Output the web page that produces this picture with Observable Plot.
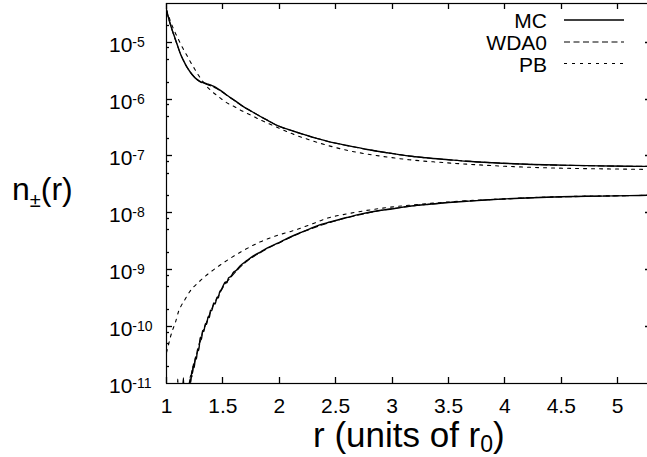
<!DOCTYPE html>
<html>
<head>
<meta charset="utf-8">
<script src="https://cdn.jsdelivr.net/npm/d3@7"></script>
<script src="https://cdn.jsdelivr.net/npm/@observablehq/plot@0.6"></script>
<style>
  html, body { margin: 0; padding: 0; background: #fff; overflow: hidden; }
  svg { display: block; }
</style>
</head>
<body>
<div id="chart"></div>
<script>
// ---- data ----
const mcUpperR = [1.00, 1.03, 1.065, 1.10, 1.124, 1.15, 1.183, 1.21, 1.242, 1.27, 1.30, 1.33, 1.36, 1.39, 1.42, 1.46, 1.50, 1.54, 1.60, 1.685, 1.76, 1.833, 1.90, 1.98, 2.05, 2.128, 2.20, 2.275, 2.35, 2.42, 2.50, 2.60, 2.70, 2.78, 2.87, 2.955, 3.05, 3.15, 3.30, 3.50, 3.66, 3.90, 4.25, 4.50, 4.84, 5.10, 5.30];
const mcUpperN = [3.7e-5, 2.2e-5, 1.35e-5, 8.5e-6, 6.2e-6, 4.8e-6, 3.6e-6, 3.0e-6, 2.5e-6, 2.22e-6, 2.04e-6, 1.94e-6, 1.86e-6, 1.78e-6, 1.67e-6, 1.5e-6, 1.33e-6, 1.16e-6, 9.6e-7, 7.3e-7, 6.0e-7, 4.95e-7, 4.2e-7, 3.45e-7, 3.05e-7, 2.72e-7, 2.45e-7, 2.2e-7, 2.0e-7, 1.83e-7, 1.68e-7, 1.53e-7, 1.40e-7, 1.3e-7, 1.21e-7, 1.14e-7, 1.07e-7, 1.0e-7, 9.3e-8, 8.6e-8, 8.1e-8, 7.6e-8, 7.1e-8, 6.9e-8, 6.7e-8, 6.6e-8, 6.55e-8];

const wdaUpperR = [1.00, 1.03, 1.065, 1.10, 1.124, 1.15, 1.183, 1.21, 1.242, 1.27, 1.30, 1.33, 1.36, 1.39, 1.42, 1.46, 1.50, 1.54, 1.60, 1.685, 1.76, 1.833, 1.90, 1.98, 2.128, 2.275, 2.42, 2.60, 2.78, 2.955, 3.15, 3.50, 3.90, 4.25, 4.84, 5.30];
const wdaUpperN = [3.6e-5, 2.2e-5, 1.33e-5, 8.4e-6, 6.2e-6, 4.8e-6, 3.6e-6, 3.0e-6, 2.5e-6, 2.2e-6, 2.0e-6, 1.9e-6, 1.8e-6, 1.72e-6, 1.62e-6, 1.47e-6, 1.31e-6, 1.15e-6, 9.5e-7, 7.3e-7, 6.0e-7, 4.95e-7, 4.2e-7, 3.45e-7, 2.72e-7, 2.2e-7, 1.83e-7, 1.53e-7, 1.3e-7, 1.14e-7, 1.0e-7, 8.6e-8, 7.6e-8, 7.1e-8, 6.7e-8, 6.55e-8];

const pbUpperR = [1.00, 1.03, 1.06, 1.09, 1.12, 1.15, 1.18, 1.21, 1.24, 1.27, 1.30, 1.33, 1.36, 1.40, 1.45, 1.50, 1.55, 1.60, 1.65, 1.70, 1.75, 1.833, 1.90, 1.98, 2.128, 2.275, 2.42, 2.60, 2.78, 2.955, 3.15, 3.40, 3.66, 4.00, 4.25, 4.60, 5.00, 5.30];
const pbUpperN = [3.7e-5, 2.5e-5, 1.75e-5, 1.3e-5, 9.8e-6, 7.5e-6, 5.9e-6, 4.6e-6, 3.65e-6, 2.9e-6, 2.35e-6, 1.95e-6, 1.65e-6, 1.38e-6, 1.15e-6, 9.6e-7, 8.3e-7, 7.4e-7, 6.5e-7, 5.8e-7, 5.2e-7, 4.3e-7, 3.75e-7, 3.2e-7, 2.4e-7, 1.9e-7, 1.55e-7, 1.26e-7, 1.08e-7, 9.6e-8, 8.6e-8, 7.8e-8, 7.2e-8, 6.6e-8, 6.3e-8, 6.05e-8, 5.9e-8, 5.8e-8];

const mcLowerR = [1.14, 1.15, 1.155, 1.19, 1.20, 1.21, 1.215, 1.225, 1.23, 1.24, 1.245, 1.257, 1.265, 1.275, 1.285, 1.30, 1.31, 1.32, 1.33, 1.345, 1.355, 1.37, 1.38, 1.39, 1.40, 1.42, 1.43, 1.449, 1.46, 1.47, 1.49, 1.50, 1.523, 1.535, 1.55, 1.57, 1.596, 1.62, 1.65, 1.715, 1.77, 1.833, 1.90, 1.98, 2.05, 2.128, 2.20, 2.275, 2.364, 2.45, 2.60, 2.72, 2.85, 3.01, 3.15, 3.30, 3.50, 3.66, 3.90, 4.25, 4.50, 4.84, 5.10, 5.30];
const mcLowerN = [6e-12, 1.25e-11, 6e-12, 6e-12, 9e-12, 1.2e-11, 1.05e-11, 1.7e-11, 1.5e-11, 2.2e-11, 1.9e-11, 2.9e-11, 2.7e-11, 4.0e-11, 3.8e-11, 6.5e-11, 6.0e-11, 8.5e-11, 8.2e-11, 1.13e-10, 1.1e-10, 1.5e-10, 1.45e-10, 1.94e-10, 1.9e-10, 2.6e-10, 2.5e-10, 3.3e-10, 3.2e-10, 4.0e-10, 4.6e-10, 5.1e-10, 6.1e-10, 5.9e-10, 7.2e-10, 7.6e-10, 9.1e-10, 9.8e-10, 1.15e-9, 1.46e-9, 1.75e-9, 2.05e-9, 2.45e-9, 2.9e-9, 3.4e-9, 4.0e-9, 4.6e-9, 5.3e-9, 6.2e-9, 6.9e-9, 8.3e-9, 9.5e-9, 1.07e-8, 1.18e-8, 1.31e-8, 1.4e-8, 1.52e-8, 1.6e-8, 1.72e-8, 1.85e-8, 1.92e-8, 1.97e-8, 2.01e-8, 2.04e-8];

const wdaLowerR = [1.095, 1.10, 1.105, 1.19, 1.205, 1.215, 1.225, 1.235, 1.25, 1.26, 1.275, 1.29, 1.30, 1.32, 1.345, 1.37, 1.39, 1.42, 1.45, 1.49, 1.523, 1.56, 1.60, 1.65, 1.715, 1.78, 1.833, 1.90, 1.98, 2.128, 2.275, 2.45, 2.60, 2.85, 3.15, 3.50, 3.90, 4.25, 4.84, 5.30];
const wdaLowerN = [5e-12, 1.2e-11, 5e-12, 5e-12, 1.1e-11, 1.4e-11, 1.3e-11, 2.0e-11, 2.4e-11, 3.0e-11, 3.6e-11, 5.0e-11, 5.5e-11, 8.0e-11, 1.05e-10, 1.45e-10, 1.8e-10, 2.5e-10, 3.2e-10, 4.5e-10, 5.8e-10, 7.0e-10, 8.6e-10, 1.1e-9, 1.42e-9, 1.75e-9, 2.0e-9, 2.4e-9, 2.85e-9, 3.95e-9, 5.2e-9, 6.8e-9, 8.2e-9, 1.06e-8, 1.3e-8, 1.52e-8, 1.72e-8, 1.85e-8, 1.97e-8, 2.04e-8];

const pbLowerR = [1.00, 1.02, 1.035, 1.065, 1.08, 1.109, 1.124, 1.168, 1.183, 1.228, 1.272, 1.316, 1.39, 1.537, 1.685, 1.833, 1.98, 2.128, 2.335, 2.42, 2.60, 2.72, 2.90, 3.15, 3.40, 3.66, 4.00, 4.25, 4.60, 5.00, 5.30];
const pbLowerN = [3.5e-11, 5e-11, 6.6e-11, 1.0e-10, 1.2e-10, 1.9e-10, 2.2e-10, 3.1e-10, 3.5e-10, 4.7e-10, 5.7e-10, 6.9e-10, 9.1e-10, 1.46e-9, 2.2e-9, 3.1e-9, 4.0e-9, 4.9e-9, 6.9e-9, 8.0e-9, 9.6e-9, 1.06e-8, 1.2e-8, 1.36e-8, 1.5e-8, 1.63e-8, 1.76e-8, 1.86e-8, 1.95e-8, 2.0e-8, 2.04e-8];

const xTicks = [1, 1.5, 2, 2.5, 3, 3.5, 4, 4.5, 5];
const xTickLabels = ["1", "1.5", "2", "2.5", "3", "3.5", "4", "4.5", "5"];
const yMajor = [1e-11, 1e-10, 1e-9, 1e-8, 1e-7, 1e-6, 1e-5];
const yExponents = ["-11", "-10", "-9", "-8", "-7", "-6", "-5"];
const yMinorMantissas = [2, 5, 8];
const legendNames = ["MC", "WDA0", "PB"];

// tables built from the arrays
const zip = (R, N, series, branch) => R.map((r, i) => ({r, n: N[i], series, branch}));
const series = [
  ...zip(mcUpperR, mcUpperN, "MC", "up"), ...zip(mcLowerR, mcLowerN, "MC", "low"),
  ...zip(wdaUpperR, wdaUpperN, "WDA0", "up"), ...zip(wdaLowerR, wdaLowerN, "WDA0", "low"),
  ...zip(pbUpperR, pbUpperN, "PB", "up"), ...zip(pbLowerR, pbLowerN, "PB", "low")
];
const yMinor = [];
for (let e = -11; e <= -5; e++) for (const m of yMinorMantissas) yMinor.push(m * Math.pow(10, e));

const styles = {
  MC:   {stroke: "#000", strokeWidth: 1.4, dash: null},
  WDA0: {stroke: "#000", strokeWidth: 1.1, dash: "6,3.5"},
  PB:   {stroke: "#000", strokeWidth: 1.1, dash: "3,5"}
};
const FONT = "'Liberation Sans', Arial, Helvetica, sans-serif";

const lineMarks = [];
for (const name of legendNames) {
  for (const br of ["low", "up"]) {
    const s = styles[name];
    lineMarks.push(Plot.line(series.filter(d => d.series === name && d.branch === br), {
      x: "r", y: "n", stroke: s.stroke, strokeWidth: s.strokeWidth,
      strokeDasharray: s.dash, curve: "monotone-x", clip: true
    }));
  }
}

const chart = Plot.plot({
  width: 656, height: 457,
  marginLeft: 166, marginRight: 5, marginTop: 3, marginBottom: 74,
  x: {domain: [1, 5.3]},
  y: {type: "log", domain: [1e-11, 4.8e-5], axis: null},
  style: {fontFamily: FONT, background: "#fff", color: "#000", maxWidth: "none"},
  marks: [
    Plot.axisX(xTicks, {anchor: "bottom", tickSize: 0, tickPadding: 15, fontSize: 21,
      tickFormat: d => xTickLabels[xTicks.indexOf(d)], label: null, fill: "#000"}),
    ...lineMarks,
    Plot.frame({stroke: "#000", strokeWidth: 1.2})
  ]
});
document.getElementById("chart").appendChild(chart);

const svg = d3.select(chart);
const xs = chart.scale("x");
const ys = chart.scale("y");
const fx0 = Math.min(...xs.range), fx1 = Math.max(...xs.range);   // frame left / right
const fyTop = Math.min(...ys.range), fyBot = Math.max(...ys.range); // frame top / bottom

// inward ticks (gnuplot style) placed through the plot's scales
const tickG = svg.append("g").attr("stroke", "#000").attr("stroke-width", 1.3)
  .attr("fill", "none");
xTicks.forEach(v => {
  const px = Math.round(xs.apply(v)) + 0.5;
  tickG.append("path").attr("d", `M${px},${fyBot}V${fyBot - 6}`);
  tickG.append("path").attr("d", `M${px},${fyTop}V${fyTop + 6}`);
});
[[yMajor, 6], [yMinor, 3]].forEach(([vals, len]) => vals.forEach(v => {
  const py = Math.round(ys.apply(v)) + 0.5;
  if (py < fyTop || py > fyBot) return;
  tickG.append("path").attr("d", `M${fx0},${py}H${fx0 + len}`);
  tickG.append("path").attr("d", `M${fx1},${py}H${fx1 - len}`);
}));

// y tick labels 10^k
yMajor.forEach((v, i) => {
  const py = ys.apply(v);
  const t = svg.append("text").attr("x", 109).attr("y", py + 10).attr("text-anchor", "start")
    .attr("font-family", FONT).attr("font-size", 21).attr("fill", "#000");
  t.append("tspan").text("10");
  t.append("tspan").attr("font-size", 14).attr("dy", -5).text(yExponents[i]);
});

// x label
{
  const t = svg.append("text").attr("x", 313).attr("y", 447).attr("text-anchor", "start")
    .attr("font-family", FONT).attr("font-size", 35).attr("fill", "#000");
  t.append("tspan").text("r (units of r");
  t.append("tspan").attr("font-size", 23).attr("dy", 5).text("0");
  t.append("tspan").attr("dy", -5).text(")");
}
// y label
{
  const t = svg.append("text").attr("x", 12).attr("y", 200).attr("text-anchor", "start")
    .attr("font-family", FONT).attr("font-size", 32).attr("fill", "#000");
  t.append("tspan").text("n");
  t.append("tspan").attr("font-size", 20).attr("dy", 6.5).text("±");
  t.append("tspan").attr("dy", -6.5).text("(r)");
}
// legend
const legendRowsY = [20, 42, 63.5];
legendNames.forEach((name, i) => {
  const y0 = legendRowsY[i];
  svg.append("text").attr("x", 547).attr("y", y0 + 8)
    .attr("text-anchor", "end").attr("font-family", FONT).attr("font-size", 21)
    .attr("fill", "#000").text(name);
  const s = styles[name];
  svg.append("line").attr("x1", 564).attr("x2", 624).attr("y1", y0).attr("y2", y0)
    .attr("stroke", s.stroke).attr("stroke-width", s.strokeWidth)
    .attr("stroke-dasharray", s.dash);
});
</script>
</body>
</html>
